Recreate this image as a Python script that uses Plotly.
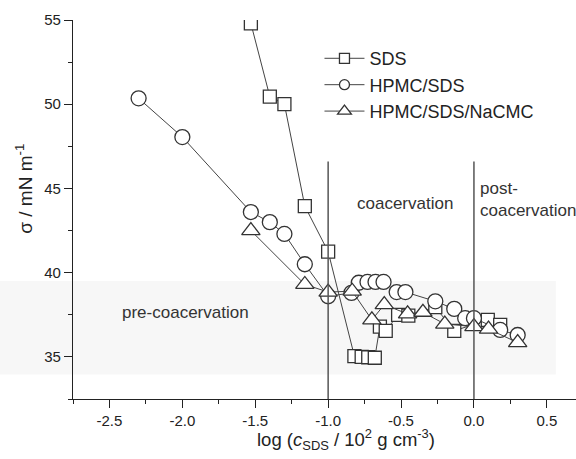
import plotly.graph_objects as go

# log(c_SDS / 10^2 g cm^-3) and surface tension sigma / mN m^-1
sds_x = [-1.53, -1.40, -1.30, -1.16, -1.00, -0.82, -0.77, -0.725, -0.68,
         -0.645, -0.605, -0.52, -0.45, -0.265, -0.135, 0.095, 0.18]
sds_y = [54.8, 50.45, 50.0, 43.95, 41.25, 35.05, 35.0, 34.98, 34.95,
         36.8, 36.55, 37.5, 37.45, 37.95, 36.55, 37.2, 36.9]

hpmc_x = [-2.30, -2.00, -1.53, -1.40, -1.30, -1.16, -1.00, -0.84, -0.79,
          -0.73, -0.675, -0.62, -0.53, -0.47, -0.265, -0.135, -0.06, 0.0,
          0.18, 0.30]
hpmc_y = [50.35, 48.05, 43.6, 43.0, 42.3, 40.5, 38.6, 38.8, 39.4,
          39.45, 39.45, 39.45, 38.85, 38.85, 38.3, 37.85, 37.3, 37.3,
          36.6, 36.3]

nacmc_x = [-1.53, -1.16, -1.00, -0.835, -0.70, -0.615, -0.455, -0.35,
           -0.20, 0.0, 0.10, 0.30]
nacmc_y = [42.5, 39.3, 38.85, 38.9, 37.2, 38.1, 37.55, 37.65,
           36.95, 36.8, 36.65, 35.85]

series_names = ["SDS", "HPMC/SDS", "HPMC/SDS/NaCMC"]
x_ticks = [-2.5, -2.0, -1.5, -1.0, -0.5, 0.0, 0.5]
y_ticks = [35, 40, 45, 50, 55]

FONT = "Liberation Sans, Arial, sans-serif"
INK = "#333333"
LINE = "#444444"

fig = go.Figure()

# faint shaded band behind the low-tension region
fig.add_shape(type="rect", xref="paper", yref="y", x0=-0.146, x1=0.96,
              y0=33.95, y1=39.5, fillcolor="#f7f7f7", line_width=0,
              layer="below")

# phase boundaries
for xb in (-1.0, 0.0):
    fig.add_shape(type="line", xref="x", yref="y", x0=xb, x1=xb,
                  y0=32.5, y1=46.6, line=dict(color="#555555", width=1.5))

styles = [("square", 13), ("circle", 15), ("triangle-up", 16)]
data = [(sds_x, sds_y), (hpmc_x, hpmc_y), (nacmc_x, nacmc_y)]

for (xs, ys), (sym, size) in zip(data, styles):
    fig.add_trace(go.Scatter(
        x=xs, y=ys, mode="lines+markers", showlegend=False,
        line=dict(color=LINE, width=1),
        marker=dict(symbol=sym, size=size, color="white",
                    line=dict(color=INK, width=1.3)),
    ))

# legend entries
for name, (sym, size) in zip(series_names, styles):
    fig.add_trace(go.Scatter(
        x=[None], y=[None], mode="lines+markers", name=name,
        line=dict(color=LINE, width=1),
        marker=dict(symbol=sym, size=10 if sym != "triangle-up" else 12,
                    color="white", line=dict(color=INK, width=1.3)),
    ))

axis_common = dict(
    showgrid=False, zeroline=False, showline=True, linecolor="#222222",
    linewidth=1.3, ticks="outside", ticklen=8, tickwidth=1.2,
    tickcolor="#222222", tickfont=dict(family=FONT, size=15, color="#222222"),
)

fig.update_xaxes(
    range=[-2.75, 0.70], tickvals=x_ticks,
    ticktext=[f"{v:.1f}" for v in x_ticks],
    minor=dict(dtick=0.25, tick0=-2.5, ticks="outside", ticklen=4,
               tickwidth=1.2, tickcolor="#222222"),
    **axis_common,
)
fig.update_yaxes(
    range=[32.5, 55], tickvals=y_ticks,
    minor=dict(dtick=2.5, tick0=32.5, ticks="outside", ticklen=4,
               tickwidth=1.2, tickcolor="#222222"),
    **axis_common,
)

annotations = [
    dict(text="pre-coacervation", x=-2.43, y=37.64, xanchor="left"),
    dict(text="coacervation", x=-0.815, y=44.1, xanchor="left"),
    dict(text="post-<br>coacervation", x=0.027, y=44.35, xanchor="left",
         align="left"),
]
for a in annotations:
    fig.add_annotation(xref="x", yref="y", showarrow=False, yanchor="middle",
                       font=dict(family=FONT, size=17, color=INK), **a)

# axis titles
fig.add_annotation(
    text="log (<i>c</i><sub>SDS</sub> / 10<sup>2</sup> g cm<sup>-3</sup>)",
    xref="paper", yref="paper", x=0.543, y=-0.108, xanchor="center",
    yanchor="middle", showarrow=False,
    font=dict(family=FONT, size=18.5, color="#222222"),
)
fig.add_annotation(
    text="σ / mN m<sup>-1</sup>", textangle=-90,
    xref="paper", yref="paper", x=-0.098, y=0.554, xanchor="center",
    yanchor="middle", showarrow=False,
    font=dict(family=FONT, size=19, color="#222222"),
)

fig.update_layout(
    width=576, height=459,
    margin=dict(l=73, r=0, t=20, b=60),
    paper_bgcolor="white", plot_bgcolor="rgba(0,0,0,0)",
    font=dict(family=FONT, color="#222222"),
    legend=dict(x=0.49, y=0.947, xanchor="left", yanchor="top",
                bgcolor="rgba(0,0,0,0)", borderwidth=0,
                font=dict(family=FONT, size=18, color="#222222"),
                tracegroupgap=0, itemwidth=40),
    showlegend=True,
)

fig.write_html("out.html")
